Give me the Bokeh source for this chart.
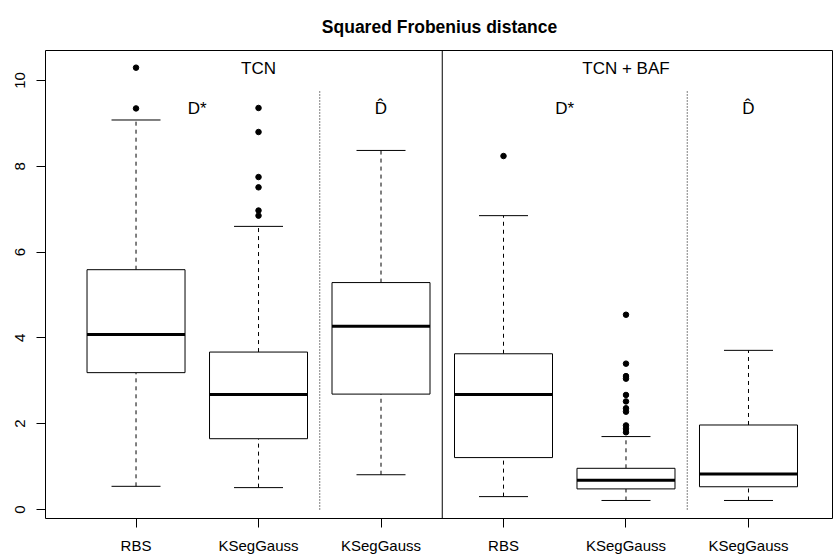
from bokeh.plotting import figure
from bokeh.models import ColumnDataSource, FixedTicker, Span
from bokeh.core.properties import value
from bokeh.embed import file_html
from bokeh.resources import INLINE

# ---- data ----
title_text = "Squared Frobenius distance"
labels = ["RBS", "KSegGauss", "KSegGauss", "RBS", "KSegGauss", "KSegGauss"]
positions = [1, 2, 3, 4, 5, 6]
q1 = [3.19, 1.65, 2.69, 1.21, 0.48, 0.53]
median = [4.08, 2.68, 4.27, 2.68, 0.68, 0.83]
q3 = [5.59, 3.67, 5.29, 3.63, 0.96, 1.97]
lower = [0.54, 0.51, 0.81, 0.30, 0.21, 0.21]
upper = [9.08, 6.60, 8.37, 6.85, 1.70, 3.71]
outliers = [
    [10.30, 9.35],
    [9.36, 8.80, 7.75, 7.51, 6.97, 6.85],
    [],
    [8.24],
    [4.54, 3.40, 3.11, 3.05, 2.67, 2.52, 2.36, 2.28, 1.96, 1.88, 1.80],
    [],
]
group_names = ["TCN", "TCN + BAF"]
group_centers = [2, 5]
method_names = ["D*", "D\u0302", "D*", "D\u0302"]
method_x = [1.5, 3, 4.5, 6]
panel_split = [3.5]
method_split = [2.5, 5.5]
y_ticks = [0, 2, 4, 6, 8, 10]

FONT = "Liberation Sans"
BOX_HALF = 0.4
CAP_HALF = 0.2

p = figure(width=833, height=557, x_range=(0.261, 6.694), y_range=(-0.21, 10.70),
           output_backend="svg", toolbar_location=None,
           min_border_left=45, min_border_right=0, min_border_top=50, min_border_bottom=39)
p.background_fill_color = "white"
p.border_fill_color = "white"
p.outline_line_color = "black"
p.outline_line_width = 1
p.xgrid.visible = False
p.ygrid.visible = False

p.title.text = title_text
p.title.text_font = FONT
p.title.text_font_size = "17.5px"
p.title.text_font_style = "bold"
p.title.text_color = "black"
p.title.align = "center"
p.title.offset = 2
p.title.standoff = 28

src = ColumnDataSource(dict(
    x=positions, q1=q1, med=median, q3=q3, lo=lower, hi=upper,
    bl=[x - BOX_HALF for x in positions], br=[x + BOX_HALF for x in positions],
    cl=[x - CAP_HALF for x in positions], cr=[x + CAP_HALF for x in positions],
))

# whiskers
p.segment(x0="x", y0="q3", x1="x", y1="hi", source=src, line_color="black", line_width=1, line_dash="4 4")
p.segment(x0="x", y0="lo", x1="x", y1="q1", source=src, line_color="black", line_width=1, line_dash="4 4")
# caps
p.segment(x0="cl", y0="hi", x1="cr", y1="hi", source=src, line_color="black", line_width=1)
p.segment(x0="cl", y0="lo", x1="cr", y1="lo", source=src, line_color="black", line_width=1)
# boxes
p.quad(left="bl", right="br", bottom="q1", top="q3", source=src,
       fill_color="white", line_color="black", line_width=1)
# medians
p.segment(x0="bl", y0="med", x1="br", y1="med", source=src, line_color="black", line_width=3)

# outliers
ox, oy = [], []
for x, vals in zip(positions, outliers):
    for v in vals:
        ox.append(x)
        oy.append(v)
p.scatter(ox, oy, size=5.5, color="black")

# separators
for loc in panel_split:
    p.add_layout(Span(location=loc, dimension="height", line_color="black", line_width=1))
p.segment(x0=method_split, y0=[0] * len(method_split), x1=method_split, y1=[9.77] * len(method_split),
          line_color="black", line_width=1, line_dash="1 2")

# annotations
p.text(x=group_centers, y=[10.28] * len(group_centers), text=group_names,
       text_align="center", text_baseline="middle",
       text_font=value(FONT), text_font_size="17px", text_color="black")
p.text(x=method_x, y=[9.35] * len(method_x), text=method_names,
       text_align="center", text_baseline="middle",
       text_font=value(FONT), text_font_size="17px", text_color="black")

# axes
p.xaxis.ticker = FixedTicker(ticks=positions)
p.xaxis.major_label_overrides = {x: l for x, l in zip(positions, labels)}
p.yaxis.ticker = FixedTicker(ticks=y_ticks)
p.yaxis.major_label_orientation = "vertical"
for ax in (p.xaxis, p.yaxis):
    ax.axis_line_color = None
    ax.major_tick_line_color = "black"
    ax.major_tick_out = 9
    ax.major_tick_in = 0
    ax.minor_tick_line_color = None
    ax.major_label_text_font = FONT
    ax.major_label_text_font_size = "15px"
    ax.major_label_text_color = "black"
p.xaxis.major_label_standoff = 9
p.yaxis.major_label_standoff = 11

open("out.html", "w").write(file_html(p, INLINE))
